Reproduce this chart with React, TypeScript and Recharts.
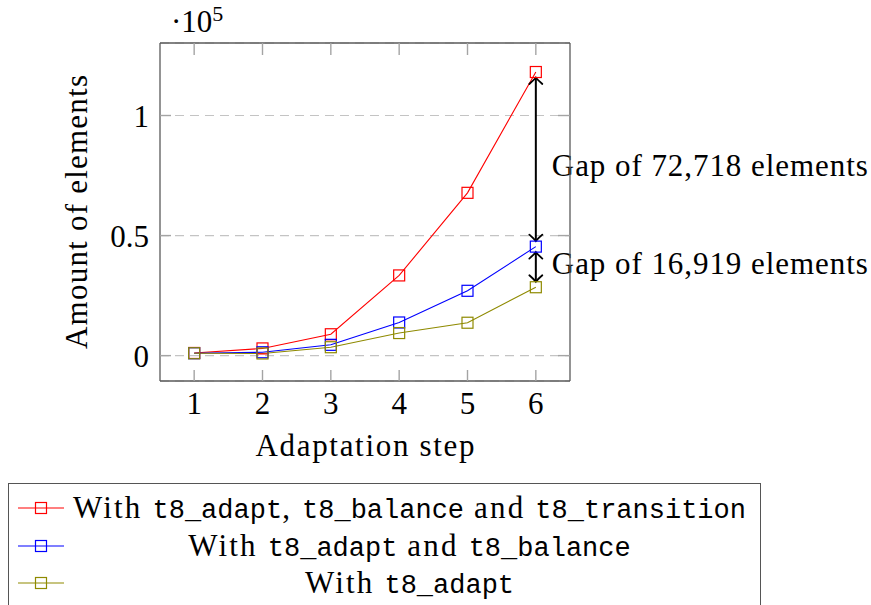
import React from 'react';
import { LineChart, Line, XAxis, YAxis, CartesianGrid, ReferenceLine } from 'recharts';

const steps = [1, 2, 3, 4, 5, 6];
const redValues = [1100, 3000, 8900, 33400, 67800, 118118];
const blueValues = [1000, 1400, 4500, 13800, 27000, 45400];
const oliveValues = [1000, 900, 3500, 9400, 13700, 28481];

const xTicks = [1, 2, 3, 4, 5, 6];
const yTicks = [0, 50000, 100000];
const xDomain = [0.5, 6.5];
const yDomain = [-10568, 130200];

const xLabel = 'Adaptation step';
const yLabel = 'Amount of elements';

const seriesDefs = [
  { key: 'red', color: '#ff0000', values: redValues },
  { key: 'blue', color: '#0000ff', values: blueValues },
  { key: 'olive', color: '#8f8a00', values: oliveValues },
];

const legendRows = [
  [
    { t: 'With ', mono: false },
    { t: 't8_adapt', mono: true },
    { t: ', ', mono: false },
    { t: 't8_balance', mono: true },
    { t: ' and ', mono: false },
    { t: 't8_transition', mono: true },
  ],
  [
    { t: 'With ', mono: false },
    { t: 't8_adapt', mono: true },
    { t: ' and ', mono: false },
    { t: 't8_balance', mono: true },
  ],
  [
    { t: 'With ', mono: false },
    { t: 't8_adapt', mono: true },
  ],
];

const gaps = [
  { from: 'red', to: 'blue', label: 'Gap of 72,718 elements', frac: 0.56 },
  { from: 'blue', to: 'olive', label: 'Gap of 16,919 elements', frac: 0.5 },
];

const data = steps.map((s, i) => ({
  step: s,
  red: redValues[i],
  blue: blueValues[i],
  olive: oliveValues[i],
}));

const SERIF = "'Liberation Serif', 'Times New Roman', serif";
const MONO = "'Liberation Mono', monospace";
const FS = 31;

const makeDot = (color: string, name: string) => (p: any) => (
  <rect
    key={`${name}-${p.index}`}
    x={p.cx - 5.5}
    y={p.cy - 5.5}
    width={11}
    height={11}
    fill="none"
    stroke={color}
    strokeWidth={1.2}
  />
);

const makeArrow = (label: string, frac: number) => (props: any) => {
  const { x1, y1, y2 } = props;
  const top = Math.min(y1, y2) + 5.5;
  const bot = Math.max(y1, y2) - 5.5;
  const x = x1;
  const h = 6.5;
  const d = 6.5;
  const ly = top + (bot - top) * frac + 7;
  return (
    <g>
      <line x1={x} x2={x} y1={top + 0.5} y2={bot - 0.5} stroke="#000" strokeWidth={2} />
      <path
        d={`M${x - h},${top + d} Q${x - h / 4},${top + d / 3} ${x},${top} Q${x + h / 4},${top + d / 3} ${x + h},${top + d}`}
        fill="none"
        stroke="#000"
        strokeWidth={1.8}
        strokeLinecap="round"
      />
      <path
        d={`M${x - h},${bot - d} Q${x - h / 4},${bot - d / 3} ${x},${bot} Q${x + h / 4},${bot - d / 3} ${x + h},${bot - d}`}
        fill="none"
        stroke="#000"
        strokeWidth={1.8}
        strokeLinecap="round"
      />
      <text
        x={x + 16}
        y={ly}
        fontFamily={SERIF}
        fontSize={FS}
        fill="#000"
        textLength={316}
        lengthAdjust="spacing"
      >
        {label}
      </text>
    </g>
  );
};

const valueAt6 = (key: string) => {
  const s = seriesDefs.find((d) => d.key === key)!;
  return s.values[s.values.length - 1];
};

const YLabelContent = (props: any) => {
  const vb = props.viewBox || { x: 100, y: 44, width: 60, height: 337 };
  const cx = vb.x - 13;
  const cy = vb.y + vb.height / 2;
  return (
    <g>
      <text
        x={cx}
        y={cy}
        transform={`rotate(-90, ${cx}, ${cy})`}
        textAnchor="middle"
        fontFamily={SERIF}
        fontSize={FS}
        fill="#000"
        textLength={274}
        lengthAdjust="spacing"
      >
        {yLabel}
      </text>
      <text x={vb.x + vb.width + 11} y={vb.y - 11} fontFamily={SERIF} fontSize={FS} fill="#000">
        <tspan>·10</tspan>
        <tspan dy={-11} fontSize={22}>5</tspan>
      </text>
    </g>
  );
};

const XLabelContent = (props: any) => {
  const vb = props.viewBox || { x: 160, y: 381, width: 409, height: 80 };
  return (
    <text
      x={vb.x + vb.width / 2}
      y={vb.y + 75}
      textAnchor="middle"
      fontFamily={SERIF}
      fontSize={FS}
      fill="#000"
      textLength={219}
      lengthAdjust="spacing"
    >
      {xLabel}
    </text>
  );
};

const axisLine = { stroke: '#5a5a5a', strokeWidth: 1.3 };
const axisTickLine = { stroke: '#a4a4a4', strokeWidth: 1.4 };
const tickStyle = { fontFamily: SERIF, fontSize: FS, fill: '#000' };
const noTick = () => null;

const Legend = () => (
  <div
    style={{
      position: 'absolute',
      left: 8,
      top: 483,
      width: 753,
      height: 140,
      boxSizing: 'border-box',
      border: '1.3px solid #555',
      background: '#fff',
    }}
  >
    {seriesDefs.map((s, i) => {
      const cy = 24 + 37.5 * i;
      return (
        <React.Fragment key={s.key}>
          <svg
            style={{ position: 'absolute', left: 8, top: cy - 8 }}
            width={48}
            height={16}
          >
            <line x1={1} x2={47} y1={8} y2={8} stroke={s.color} strokeWidth={1.2} />
            <rect x={18.5} y={2.5} width={11} height={11} fill="none" stroke={s.color} strokeWidth={1.2} />
          </svg>
          <div
            style={{
              position: 'absolute',
              left: 59,
              width: 683,
              top: cy - 19,
              height: 38,
              lineHeight: '38px',
              textAlign: 'center',
              whiteSpace: 'nowrap',
              fontFamily: SERIF,
              fontSize: FS,
              color: '#000',
            }}
          >
            {legendRows[i].map((part, j) => (
              <span
                key={j}
                style={
                  part.mono
                    ? { fontFamily: MONO, fontSize: 27, whiteSpace: 'pre' }
                    : { whiteSpace: 'pre', letterSpacing: '2.2px' }
                }
              >
                {part.t}
              </span>
            ))}
          </div>
        </React.Fragment>
      );
    })}
  </div>
);

export default function App() {
  return (
    <div style={{ position: 'absolute', left: 0, top: 0, width: 871, height: 605, background: '#fff', overflow: 'hidden' }}>
      <LineChart
        width={871}
        height={605}
        data={data}
        margin={{ top: 43, right: 301, left: 100, bottom: 144 }}
      >
        <CartesianGrid horizontal vertical={false} stroke="#c4c4c4" strokeDasharray="9 6" strokeWidth={1.2} />
        <XAxis
          dataKey="step"
          type="number"
          domain={xDomain}
          ticks={xTicks}
          allowDataOverflow
          height={80}
          axisLine={axisLine}
          tickLine={axisTickLine}
          tickSize={-11}
          tickMargin={22}
          tick={tickStyle}
          interval={0}
          label={{ content: XLabelContent }}
        />
        <XAxis
          xAxisId="top"
          orientation="top"
          mirror
          dataKey="step"
          type="number"
          domain={xDomain}
          ticks={xTicks}
          allowDataOverflow
          height={1}
          axisLine={axisLine}
          tickLine={axisTickLine}
          tickSize={12}
          tick={noTick}
          interval={0}
        />
        <YAxis
          type="number"
          domain={yDomain}
          ticks={yTicks}
          allowDataOverflow
          width={60}
          axisLine={axisLine}
          tickLine={axisTickLine}
          tickSize={-11}
          tickMargin={22}
          tick={tickStyle}
          interval={0}
          tickFormatter={(v: number) => String(v / 100000)}
          label={{ content: YLabelContent }}
        />
        <YAxis
          yAxisId="right"
          orientation="right"
          mirror
          type="number"
          domain={yDomain}
          ticks={yTicks}
          allowDataOverflow
          width={1}
          axisLine={axisLine}
          tickLine={axisTickLine}
          tickSize={12}
          tick={noTick}
          interval={0}
        />
        {seriesDefs.map((s) => (
          <Line
            key={s.key}
            type="linear"
            dataKey={s.key}
            stroke={s.color}
            strokeWidth={1.1}
            dot={makeDot(s.color, s.key)}
            activeDot={false}
            isAnimationActive={false}
          />
        ))}
        {gaps.map((g) => (
          <ReferenceLine
            key={g.label}
            segment={[
              { x: 6, y: valueAt6(g.from) },
              { x: 6, y: valueAt6(g.to) },
            ]}
            ifOverflow="visible"
            shape={makeArrow(g.label, g.frac)}
          />
        ))}
      </LineChart>
      <Legend />
    </div>
  );
}
